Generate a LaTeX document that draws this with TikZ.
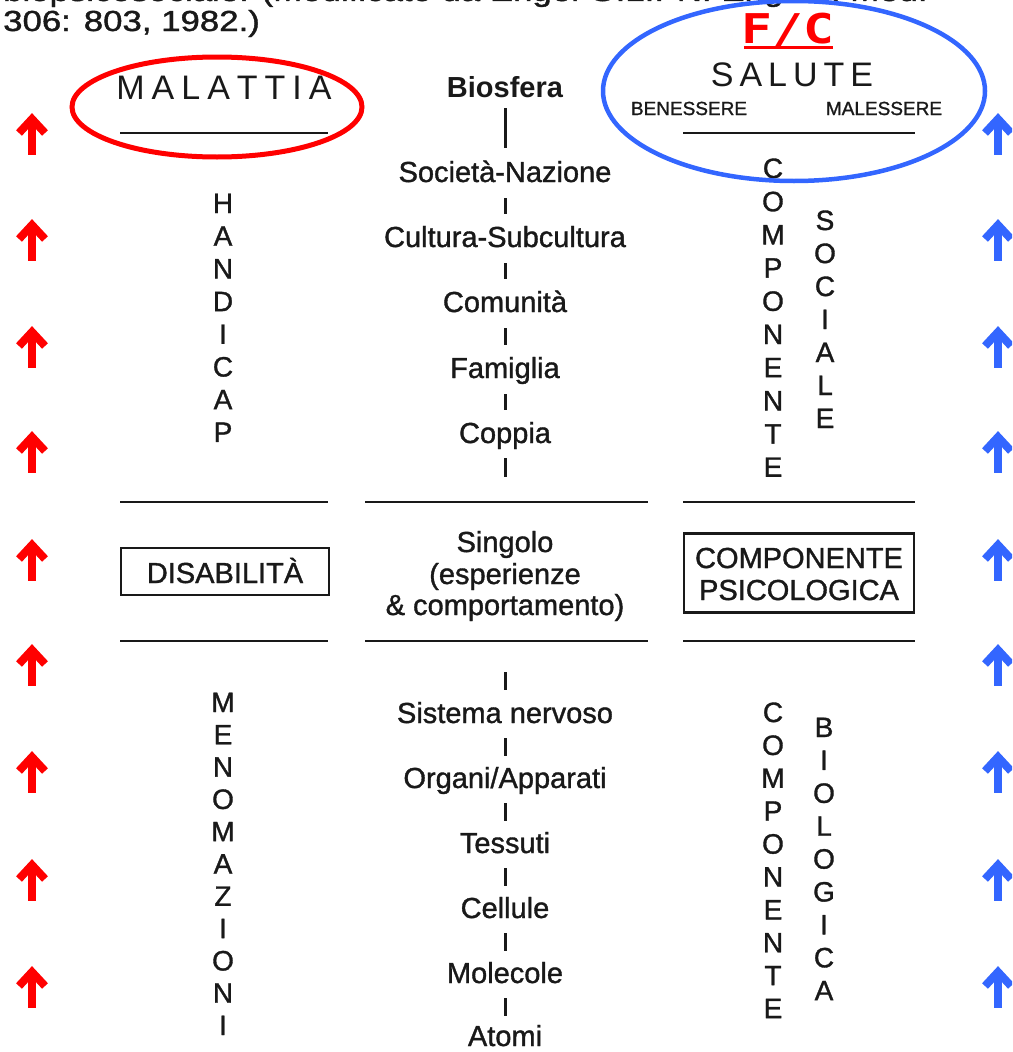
\documentclass[tikz,border=0pt]{standalone}
\usepackage{fontspec}
\setmainfont{Liberation Sans}
\newfontfamily\heavy{Liberation Sans}[FakeBold=1.2]
\newfontfamily\fcfont{DejaVu Sans Mono}
\usetikzlibrary{calc}
\definecolor{myblue}{RGB}{51,102,255}
\definecolor{ink}{RGB}{25,25,25}
\tikzset{
  lbl/.style={font=\heavy\fontsize{29}{32}\selectfont, anchor=base, inner sep=0pt, text=ink},
  vl/.style={font=\heavy\fontsize{28}{30}\selectfont, anchor=base, inner sep=0pt, text=ink},
  bar/.style={line width=3pt, draw=ink},
  rule/.style={line width=2.6pt, draw=ink},
  boxed/.style={draw=ink, line width=2.4pt, inner sep=0pt},
  uparr/.pic={
    \draw[line width=8pt, line join=miter, miter limit=10] (-13,-1) -- (0,-15) -- (13,-1);
    \fill (-4,-15) rectangle (4,21);
  }
}
\begin{document}
\begin{tikzpicture}[x=1pt,y=-1pt]
\path[use as bounding box] (0,0) rectangle (1012,1052);
\begin{scope}
\clip (0,0) rectangle (1012,1052);
% caption fragment (cut off)
\node[lbl, anchor=base west] (cap1) at (3,1) {\scalebox{1.2}[1]{biopsicosociale. (Modificato da Engel G.L.: N. Engl. J. Med.}};
\node[lbl, anchor=base west] (cap2) at (3,31) {\scalebox{1.2}[1]{306: 803, 1982.)}};

% headers
\node[lbl, font=\fontsize{34}{36}\selectfont] (mal) at (224,99) {M\kern7pt A\kern7pt L\kern7pt A\kern7pt T\kern7pt T\kern7pt I\kern7pt A};
\node[lbl, font=\fontsize{34}{36}\selectfont] (sal) at (792,86) {S\kern6pt A\kern6pt L\kern6pt U\kern6pt T\kern6pt E};
\node[lbl, font=\heavy\fontsize{19}{21}\selectfont] (ben) at (689,115) {BENESSERE};
\node[lbl, font=\heavy\fontsize{19}{21}\selectfont] (males) at (884,115) {MALESSERE};
\node[lbl, font=\fcfont\bfseries\fontsize{41}{44}\selectfont, text=red] (fc) at (788,43) {\scalebox{1.25}[1]{F/C}};
\draw[red, line width=3pt] (744,47) -- (833,47);

\draw[rule] (120,133) -- (328,133);
\draw[rule] (683,133) -- (915,133);

% central column, upper part
\node[lbl, font=\fontsize{29}{32}\selectfont\bfseries] (bio) at (505,97) {Biosfera};
\node[lbl] (soc) at (505,182) {Società-Nazione};
\node[lbl] (cul) at (505,247) {Cultura-Subcultura};
\node[lbl] (com) at (505,312) {Comunità};
\node[lbl] (fam) at (505,378) {Famiglia};
\node[lbl] (cop) at (505,443) {Coppia};
\coordinate (copend) at (505,477);
\draw[bar] ($(bio.base)+(0,11)$) -- ($(soc.base)+(0,-34)$);
\foreach \a/\b in {soc/cul,cul/com,com/fam,fam/cop}
  \draw[bar] ($(\a.base)+(0,16)$) -- ($(\b.base)+(0,-33)$);
\draw[bar] ($(cop.base)+(0,15)$) -- (copend);

% rules
\foreach \y in {502,641} {
  \draw[rule] (120,\y) -- (328,\y);
  \draw[rule] (365,\y) -- (648,\y);
  \draw[rule] (683,\y) -- (915,\y);
}

% middle row
\node[boxed, minimum width=208pt, minimum height=47pt] (disbox) at (225,571.5) {};
\node[lbl] (dis) at (225,583) {DISABILITÀ};
\node[lbl] (sing1) at (505,552) {Singolo};
\node[lbl] (sing2) at (505,584) {(esperienze};
\node[lbl] (sing3) at (505,615) {\& comportamento)};
\node[boxed, minimum width=230pt, minimum height=79pt] (psybox) at (799,573) {};
\node[lbl] (psy1) at (799,568) {COMPONENTE};
\node[lbl] (psy2) at (799,600) {PSICOLOGICA};

% central column, lower part
\coordinate (sisstart) at (505,672);
\node[lbl] (sis) at (505,723) {Sistema nervoso};
\node[lbl] (org) at (505,788) {Organi/Apparati};
\node[lbl] (tes) at (505,853) {Tessuti};
\node[lbl] (cel) at (505,918) {Cellule};
\node[lbl] (mol) at (505,983) {Molecole};
\node[lbl] (ato) at (505,1046) {Atomi};
\draw[bar] (sisstart) -- ($(sis.base)+(0,-33)$);
\foreach \a/\b in {sis/org,org/tes,tes/cel,cel/mol}
  \draw[bar] ($(\a.base)+(0,15)$) -- ($(\b.base)+(0,-32)$);
\draw[bar] ($(mol.base)+(0,15)$) -- ($(ato.base)+(0,-30)$);

% vertical words
\foreach \l [count=\i from 0] in {H,A,N,D,I,C,A,P}
  \node[vl] (hand\i) at (223,{213+\i*32.7}) {\l};
\foreach \l [count=\i from 0] in {M,E,N,O,M,A,Z,I,O,N,I}
  \node[vl] (men\i) at (223,{712+\i*32.3}) {\l};
\foreach \l [count=\i from 0] in {C,O,M,P,O,N,E,N,T,E}
  \node[vl] (csoc\i) at (773,{178+\i*33.2}) {\l};
\foreach \l [count=\i from 0] in {S,O,C,I,A,L,E}
  \node[vl] (soci\i) at (825,{230+\i*33}) {\l};
\foreach \l [count=\i from 0] in {C,O,M,P,O,N,E,N,T,E}
  \node[vl] (cbio\i) at (773,{722+\i*32.9}) {\l};
\foreach \l [count=\i from 0] in {B,I,O,L,O,G,I,C,A}
  \node[vl] (biol\i) at (824,{737+\i*32.9}) {\l};

% side arrows
\foreach \y in {134,240,347,452,560,665,772,880,987} {
  \pic[color=red] at (32,\y) {uparr};
  \pic[color=myblue] at (998,\y) {uparr};
}

% ellipses
\draw[red, line width=5pt] (217,107) ellipse [x radius=145pt, y radius=50pt];
\draw[myblue, line width=4.5pt] (794,91) ellipse [x radius=191pt, y radius=90pt];
\end{scope}
\end{tikzpicture}
\end{document}
